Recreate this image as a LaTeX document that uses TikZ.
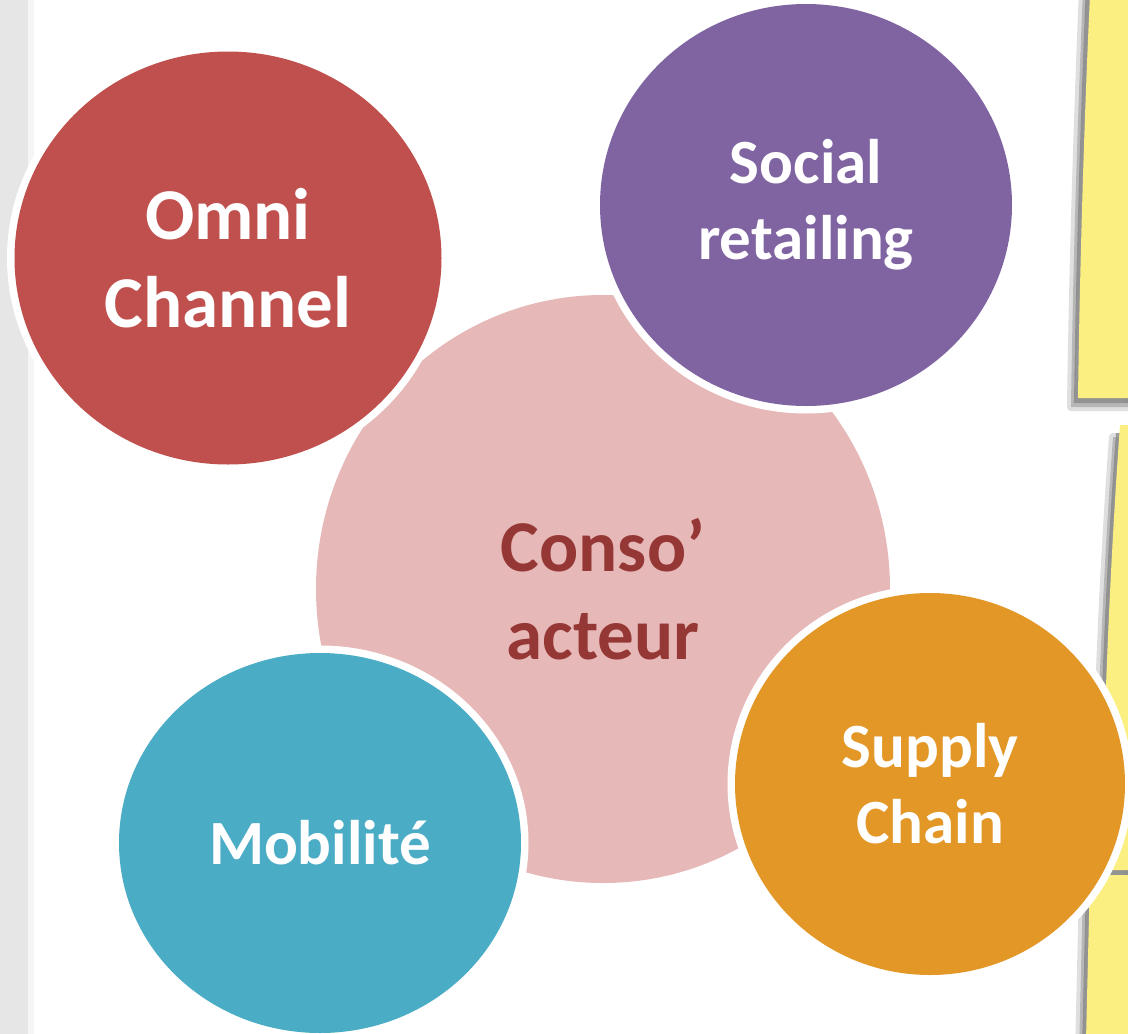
\documentclass[tikz,border=0pt]{standalone}
\usepackage{fontspec}
\setmainfont{Carlito}
\usetikzlibrary{shapes.geometric}
\definecolor{omnicol}{HTML}{C0504D}
\definecolor{socialcol}{HTML}{8064A2}
\definecolor{supplycol}{HTML}{E29727}
\definecolor{mobicol}{HTML}{4BACC6}
\definecolor{centercol}{HTML}{E6B8B7}
\definecolor{centertext}{HTML}{953735}
\definecolor{notecol}{HTML}{FAEF80}
\definecolor{stripcol}{HTML}{E6E6E6}
\begin{document}
\begin{tikzpicture}[x=1pt,y=-1pt,
  bubble/.style={ellipse, inner sep=0pt, align=center, text=white,
    preaction={draw=white, line width=15pt}},
  bigtext/.style={font=\bfseries\fontsize{73}{88}\selectfont},
  smalltext/.style={font=\bfseries\fontsize{63}{76}\selectfont},
  shadowsoft/.style={draw=black!35, draw opacity=.35, line width=8pt, line join=round, fill=black!40, fill opacity=.6},
  shadowcore/.style={fill=black!50, fill opacity=.7},
  notefill/.style={fill=notecol}]
\useasboundingbox (0,0) rectangle (1128,1034);
\fill[white] (0,0) rectangle (1128,1034);
% left grey strip
\fill[stripcol] (0,0) rectangle (28,1034);
\fill[black!4] (28,0) rectangle (34,1034);
% sticky notes: shadows
\begin{scope}[shift={(-7,9)}]
\path[shadowsoft] (1090,-20) -- (1135,-20) -- (1135,398) -- (1078,398) .. controls (1080,250) and (1085,100) .. (1090,-20) -- cycle;
\path[shadowsoft] (1120,428) -- (1135,428) -- (1135,870) -- (1101,870) .. controls (1104,700) and (1111,550) .. (1120,428) -- cycle;
\path[shadowsoft] (1090,878) -- (1135,878) -- (1135,1045) -- (1086,1045) -- cycle;
\end{scope}
\begin{scope}[shift={(-4,5)}]
\path[shadowcore] (1090,-20) -- (1135,-20) -- (1135,398) -- (1078,398) .. controls (1080,250) and (1085,100) .. (1090,-20) -- cycle;
\path[shadowcore] (1120,428) -- (1135,428) -- (1135,870) -- (1101,870) .. controls (1104,700) and (1111,550) .. (1120,428) -- cycle;
\path[shadowcore] (1090,878) -- (1135,878) -- (1135,1045) -- (1086,1045) -- cycle;
\end{scope}
% sticky notes
\fill[notefill] (1090,-5) -- (1135,-5) -- (1135,398) -- (1078,398) .. controls (1080,250) and (1085,100) .. (1090,-5) -- cycle;
\fill[notefill] (1120,425) -- (1135,425) -- (1135,870) -- (1101,870) .. controls (1104,700) and (1111,550) .. (1120,425) -- cycle;
\fill[notefill] (1090,875) -- (1135,875) -- (1135,1040) -- (1086,1040) -- cycle;
% centre
\node[ellipse, inner sep=0pt, fill=centercol, minimum width=574pt, minimum height=588pt,
  align=center, text=centertext, bigtext] (conso) at (603,589) {Conso’\\acteur};
% satellites
\node[bubble, fill=omnicol, minimum width=427pt, minimum height=413pt, bigtext] (omni) at (228,258) {Omni\\Channel};
\node[bubble, fill=socialcol, minimum width=412pt, minimum height=402pt, smalltext] (social) at (806,205) {Social\\retailing};
\node[bubble, fill=supplycol, minimum width=390pt, minimum height=382pt, smalltext] (supply) at (930,784) {Supply\\Chain};
\node[bubble, fill=mobicol, minimum width=402pt, minimum height=380pt, smalltext] (mobi) at (320,843) {Mobilité};
\end{tikzpicture}
\end{document}
